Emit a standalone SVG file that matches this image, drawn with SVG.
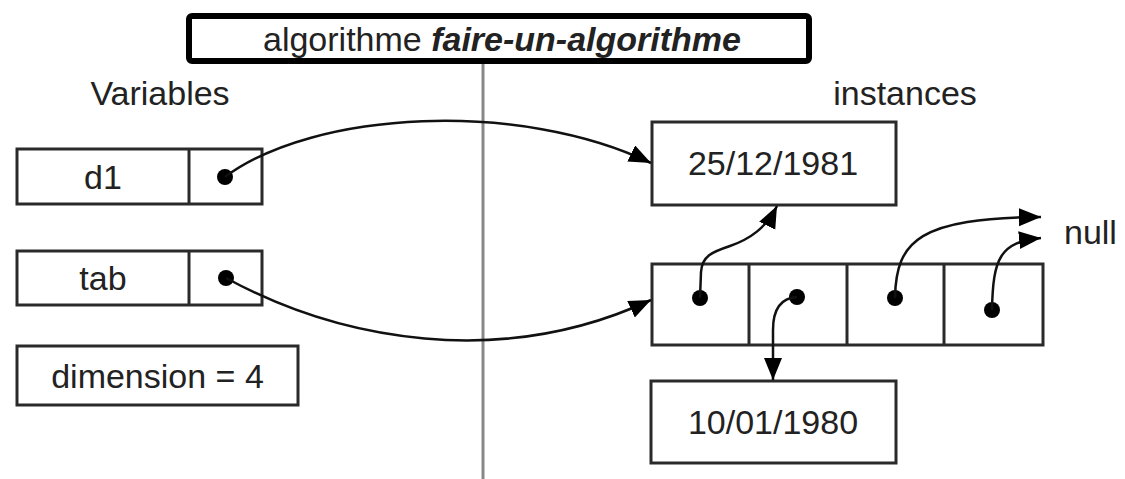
<svg xmlns="http://www.w3.org/2000/svg" width="1125" height="479" viewBox="0 0 1125 479">
  <defs>
    <style>
      .box { fill: #ffffff; stroke: #2a2a2a; stroke-width: 3; }
      .div { stroke: #2a2a2a; stroke-width: 3; }
      .txt { font-family: "Liberation Sans", Arial, sans-serif; font-size: 34px; fill: #222222; }
      .mid { text-anchor: middle; }
      .dot { fill: #000000; }
      .conn { fill: none; stroke: #111111; stroke-width: 2.5; marker-end: url(#arrow); }
    </style>
    <marker id="arrow" markerUnits="userSpaceOnUse" markerWidth="24" markerHeight="20" refX="22" refY="9" orient="auto">
      <path d="M0,0 L22,9 L0,18 z" fill="#000000"/>
    </marker>
  </defs>
  <rect x="0" y="0" width="1125" height="479" fill="#ffffff"/>

  <g id="separator">
    <line x1="483" y1="64" x2="483" y2="479" stroke="#888888" stroke-width="3"/>
  </g>

  <g id="title">
    <rect x="189" y="16" width="620" height="45" rx="3" fill="#ffffff" stroke="#000000" stroke-width="6"/>
    <text class="txt mid" x="502" y="51">algorithme <tspan font-weight="bold" font-style="italic">faire-un-algorithme</tspan></text>
  </g>

  <g id="label-variables">
    <text class="txt mid" x="160" y="105">Variables</text>
  </g>
  <g id="label-instances">
    <text class="txt mid" x="905" y="105">instances</text>
  </g>

  <g id="var-d1">
    <rect class="box" x="17" y="149" width="245" height="55"/>
    <line class="div" x1="189" y1="149" x2="189" y2="204"/>
    <text class="txt mid" x="103" y="189">d1</text>
    <circle class="dot" cx="225" cy="177" r="8"/>
  </g>

  <g id="var-tab">
    <rect class="box" x="17" y="251" width="245" height="54"/>
    <line class="div" x1="189" y1="251" x2="189" y2="305"/>
    <text class="txt mid" x="103" y="290">tab</text>
    <circle class="dot" cx="226" cy="278" r="8"/>
  </g>

  <g id="var-dimension">
    <rect class="box" x="17" y="346" width="281" height="59"/>
    <text class="txt mid" x="157.5" y="388">dimension = 4</text>
  </g>

  <g id="inst-date1">
    <rect class="box" x="652" y="122" width="244" height="83"/>
    <text class="txt mid" x="773" y="175">25/12/1981</text>
  </g>

  <g id="inst-array">
    <rect class="box" x="652" y="264" width="391" height="81"/>
    <line class="div" x1="749" y1="264" x2="749" y2="345"/>
    <line class="div" x1="847" y1="264" x2="847" y2="345"/>
    <line class="div" x1="944" y1="264" x2="944" y2="345"/>
    <circle class="dot" cx="700" cy="298" r="8"/>
    <circle class="dot" cx="797" cy="297" r="8"/>
    <circle class="dot" cx="895" cy="298" r="8"/>
    <circle class="dot" cx="992" cy="310" r="8"/>
  </g>

  <g id="inst-date2">
    <rect class="box" x="651" y="381" width="245" height="82"/>
    <text class="txt mid" x="773" y="434">10/01/1980</text>
  </g>

  <g id="null-label">
    <text class="txt" x="1064" y="244">null</text>
  </g>

  <g id="connectors">
    <path class="conn" d="M225 177 C 315 110, 520 100, 651 163"/>
    <path class="conn" d="M226 278 C 340 340, 500 370, 651 300"/>
    <path class="conn" d="M700 298 L 701 272 C 702 256, 712 252, 730 246 C 750 239, 766 228, 777 206"/>
    <path class="conn" d="M797 297 C 780 298, 773 310, 773 330 L 773 380"/>
    <path class="conn" d="M895 298 C 896 240, 920 218, 1041 217"/>
    <path class="conn" d="M992 310 C 993 258, 1000 242, 1041 238"/>
  </g>
</svg>
